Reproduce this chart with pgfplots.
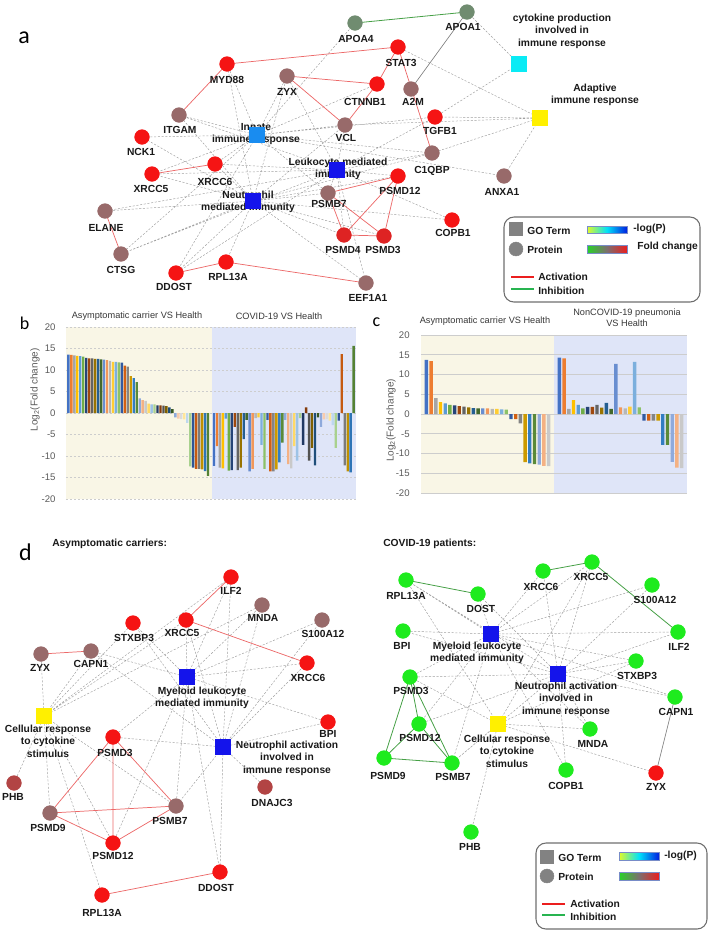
\documentclass[border=0pt]{standalone}
\usepackage{fontspec}
\setmainfont{Liberation Sans}
\newfontfamily\carl{Carlito}
\usepackage{pgfplots}
\pgfplotsset{compat=1.18}
% node / edge colours
\definecolor{nred}{RGB}{245,20,20}
\definecolor{nred2}{RGB}{222,35,35}
\definecolor{nbrown}{RGB}{152,106,106}
\definecolor{ndred}{RGB}{178,68,68}
\definecolor{napo}{RGB}{112,140,112}
\definecolor{ngreen}{RGB}{30,235,30}
\definecolor{sqlb}{RGB}{25,140,240}
\definecolor{sqb}{RGB}{20,20,235}
\definecolor{sqc}{RGB}{10,235,245}
\definecolor{sqy}{RGB}{255,240,0}
\definecolor{eRed}{RGB}{236,105,105}
\definecolor{eGreen}{RGB}{70,160,70}
\definecolor{eGrey}{RGB}{160,160,160}
\definecolor{txt}{RGB}{25,25,25}
\definecolor{ttlc}{RGB}{55,55,55}
\definecolor{bgY}{RGB}{249,246,230}
\definecolor{bgB}{RGB}{223,229,248}
\definecolor{gridc}{RGB}{205,205,205}
\definecolor{tickc}{RGB}{90,90,90}
\definecolor{legg}{RGB}{130,130,130}
\definecolor{legbox}{RGB}{110,110,110}
\definecolor{legout}{RGB}{120,140,200}
\definecolor{actc}{RGB}{235,30,30}
\definecolor{inhc}{RGB}{40,180,80}
\definecolor{gY}{RGB}{225,250,40}
\definecolor{gC}{RGB}{0,225,250}
\definecolor{gB}{RGB}{0,30,225}
\definecolor{fG}{RGB}{40,210,40}
\definecolor{fM}{RGB}{125,110,110}
\definecolor{fR}{RGB}{235,30,30}
% Office palette
\definecolor{p1}{HTML}{4472C4}\definecolor{p2}{HTML}{ED7D31}\definecolor{p3}{HTML}{A5A5A5}
\definecolor{p4}{HTML}{FFC000}\definecolor{p5}{HTML}{5B9BD5}\definecolor{p6}{HTML}{70AD47}
\definecolor{p7}{HTML}{264478}\definecolor{p8}{HTML}{9E480E}\definecolor{p9}{HTML}{636363}
\definecolor{p10}{HTML}{997300}\definecolor{p11}{HTML}{255E91}\definecolor{p12}{HTML}{43682B}
\definecolor{p13}{HTML}{698ED0}\definecolor{p14}{HTML}{F1975A}\definecolor{p15}{HTML}{B7B7B7}
\definecolor{p16}{HTML}{FFCD33}\definecolor{p17}{HTML}{7CAFDD}\definecolor{p18}{HTML}{8CC168}
\definecolor{p19}{HTML}{335AA1}\definecolor{p20}{HTML}{D26012}\definecolor{p21}{HTML}{848484}
\definecolor{p22}{HTML}{CC9A00}\definecolor{p23}{HTML}{327DC2}\definecolor{p24}{HTML}{5A8A39}
\definecolor{p25}{HTML}{8FAADC}\definecolor{p26}{HTML}{F4B183}\definecolor{p27}{HTML}{C9C9C9}
\definecolor{p28}{HTML}{FFD966}\definecolor{p29}{HTML}{9DC3E6}\definecolor{p30}{HTML}{A9D18E}
\definecolor{p31}{HTML}{203864}\definecolor{p32}{HTML}{843C0C}\definecolor{p33}{HTML}{525252}
\definecolor{p34}{HTML}{7F6000}\definecolor{p35}{HTML}{1F4E79}\definecolor{p36}{HTML}{385723}
\definecolor{p37}{HTML}{8EA9DB}\definecolor{p38}{HTML}{F8CBAD}\definecolor{p39}{HTML}{DBDBDB}
\definecolor{p40}{HTML}{FFE699}\definecolor{p41}{HTML}{BDD7EE}\definecolor{p42}{HTML}{A9D18E}
\definecolor{p43}{HTML}{2F5597}\definecolor{p44}{HTML}{C55A11}\definecolor{p45}{HTML}{7B7B7B}
\definecolor{p46}{HTML}{BF9000}\definecolor{p47}{HTML}{2E75B6}\definecolor{p48}{HTML}{548235}

\pgfplotsset{
  dEdge/.style={draw=eGrey, line width=0.35pt, dash pattern=on 1.6pt off 1.2pt},
  rEdge/.style={draw=eRed, line width=0.55pt},
  gEdge/.style={draw=eGreen, line width=0.6pt},
  sEdge/.style={draw=gray, line width=0.5pt},
  nd/.style={only marks, mark=*, mark size=5.5pt, color=#1},
  sq/.style={only marks, mark=square*, mark size=5.6pt, color=#1},
  bb/.style={ybar, bar width=0.8, bar shift=0pt, draw=none, fill=#1},
  cc/.style={ybar, bar width=0.72, bar shift=0pt, draw=none, fill=#1},
  barax/.style={anchor=north west, scale only axis, ymin=-20, ymax=20, clip=false,
    unbounded coords=jump, xtick=\empty, ytick={-20,-15,-10,-5,0,5,10,15,20},
    yticklabels={-20,-15,-10,-5,0,5,10,15,20}, axis line style={draw=none},
    major tick length=0pt,
    yticklabel style={font=\fontsize{7.2}{8}\selectfont, text=tickc},
    ylabel={Log\textsubscript{2}(Fold change)},
    ylabel style={font=\fontsize{7.5}{9}\selectfont, text=tickc, anchor=center}},
}
\tikzset{
  lab/.style={font=\bfseries\fontsize{7.7}{9.4}\selectfont, text=txt, inner sep=0pt, align=center},
  ttl/.style={font=\fontsize{6.9}{8.3}\selectfont, text=ttlc, inner sep=0pt, align=center},
  pl/.style={font=\carl\fontsize{18}{20}\selectfont, inner sep=0pt},
  plb/.style={font=\carl\fontsize{13.5}{15}\selectfont, inner sep=0pt},
  lbox/.style={draw=legbox, line width=0.8pt, rounded corners=7.5pt},
  gout/.style={draw=legout, line width=0.6pt},
}

\begin{document}
\begin{tikzpicture}
\useasboundingbox (0,0) rectangle (531pt,-699pt);

% ---------------- panel b ----------------
\begin{axis}[barax, at={(49.5pt,-245.25pt)}, width=217.5pt, height=129pt,
  xmin=0.2, xmax=97.8, yticklabel style={xshift=-4.3pt},
  ylabel style={at={(axis description cs:-0.107,0.634)}}]
\addplot[fill=bgY, draw=none] coordinates {(0.2,-20) (49.5,-20) (49.5,20) (0.2,20)};
\addplot[fill=bgB, draw=none] coordinates {(49.5,-20) (97.8,-20) (97.8,20) (49.5,20)};
\addplot[draw=gridc, line width=0.4pt, dash pattern=on 1.5pt off 1.5pt] coordinates {
 (0.2,-20)(97.8,-20)(0,nan)(0.2,-15)(97.8,-15)(0,nan)(0.2,-10)(97.8,-10)(0,nan)
 (0.2,-5)(97.8,-5)(0,nan)(0.2,0)(97.8,0)(0,nan)(0.2,5)(97.8,5)(0,nan)
 (0.2,10)(97.8,10)(0,nan)(0.2,15)(97.8,15)(0,nan)(0.2,20)(97.8,20)};
\addplot[bb=p1] coordinates {(1,13.6)(50,-12.3)};
\addplot[bb=p2] coordinates {(2,13.5)(51,-7.7)};
\addplot[bb=p3] coordinates {(3,13.4)(52,-12.7)};
\addplot[bb=p4] coordinates {(4,13.3)(53,-12.9)};
\addplot[bb=p5] coordinates {(5,13.2)(54,-1.3)};
\addplot[bb=p6] coordinates {(6,13.1)(55,-13.4)};
\addplot[bb=p7] coordinates {(7,12.8)(56,-13.3)};
\addplot[bb=p8] coordinates {(8,12.7)(57,-3.2)};
\addplot[bb=p9] coordinates {(9,12.7)(58,-13.3)};
\addplot[bb=p10] coordinates {(10,12.6)(59,-12.7)};
\addplot[bb=p11] coordinates {(11,12.6)(60,-6.1)};
\addplot[bb=p12] coordinates {(12,12.5)(61,-1.6)};
\addplot[bb=p13] coordinates {(13,12.4)(62,-13.6)};
\addplot[bb=p14] coordinates {(14,12.3)(63,-13.0)};
\addplot[bb=p15] coordinates {(15,12.1)(64,-1.2)};
\addplot[bb=p16] coordinates {(16,11.9)(65,-1.0)};
\addplot[bb=p17] coordinates {(17,11.9)(66,-7.4)};
\addplot[bb=p18] coordinates {(18,11.8)(67,-13.0)};
\addplot[bb=p19] coordinates {(19,11.7)(68,-1.6)};
\addplot[bb=p20] coordinates {(20,11.0)(69,-13.6)};
\addplot[bb=p21] coordinates {(21,10.8)(70,-13.6)};
\addplot[bb=p22] coordinates {(22,8.6)(71,-13.1)};
\addplot[bb=p23] coordinates {(23,8.1)(72,-11.5)};
\addplot[bb=p24] coordinates {(24,7.2)(73,-6.9)};
\addplot[bb=p25] coordinates {(25,3.4)(74,-1.6)};
\addplot[bb=p26] coordinates {(26,3.0)(75,-11.9)};
\addplot[bb=p27] coordinates {(27,2.8)(76,-12.9)};
\addplot[bb=p28] coordinates {(28,2.2)(77,-7.7)};
\addplot[bb=p29] coordinates {(29,2.0)(78,-11.1)};
\addplot[bb=p30] coordinates {(30,2.0)(79,-1.2)};
\addplot[bb=p31] coordinates {(31,1.8)(80,-7.4)};
\addplot[bb=p32] coordinates {(32,1.8)(81,1.3)};
\addplot[bb=p33] coordinates {(33,1.7)(82,-11.1)};
\addplot[bb=p34] coordinates {(34,1.6)(83,-8.1)};
\addplot[bb=p35] coordinates {(35,1.3)(84,-12.2)};
\addplot[bb=p36] coordinates {(36,0.9)(85,-1.0)};
\addplot[bb=p37] coordinates {(37,-1.0)(86,-3.2)};
\addplot[bb=p38] coordinates {(38,-1.3)(87,-1.5)};
\addplot[bb=p39] coordinates {(39,-1.4)(88,-1.4)};
\addplot[bb=p40] coordinates {(40,-1.5)(89,-1.8)};
\addplot[bb=p41] coordinates {(41,-2.3)(90,-2.8)};
\addplot[bb=p42] coordinates {(42,-12.4)(91,-8.1)};
\addplot[bb=p43] coordinates {(43,-12.7)(92,-1.8)};
\addplot[bb=p44] coordinates {(44,-13.0)(93,13.7)};
\addplot[bb=p45] coordinates {(45,-13.0)(94,-12.2)};
\addplot[bb=p46] coordinates {(46,-13.1)(95,-13.6)};
\addplot[bb=p47] coordinates {(47,-13.5)(96,-13.8)};
\addplot[bb=p48] coordinates {(48,-14.6)(97,15.6)};
\end{axis}

% ---------------- panel c ----------------
\begin{axis}[barax, at={(315.75pt,-251.25pt)}, width=199.5pt, height=118.5pt,
  xmin=-0.15, xmax=56.45, yticklabel style={xshift=-5pt},
  ylabel style={at={(axis description cs:-0.113,0.46)}}]
\addplot[fill=bgY, draw=none] coordinates {(-0.15,-20) (28.15,-20) (28.15,20) (-0.15,20)};
\addplot[fill=bgB, draw=none] coordinates {(28.15,-20) (56.45,-20) (56.45,20) (28.15,20)};
\addplot[draw=gridc, line width=0.4pt] coordinates {
 (-0.15,-20)(56.45,-20)(0,nan)(-0.15,-15)(56.45,-15)(0,nan)(-0.15,-10)(56.45,-10)(0,nan)
 (-0.15,-5)(56.45,-5)(0,nan)(-0.15,0)(56.45,0)(0,nan)(-0.15,5)(56.45,5)(0,nan)
 (-0.15,10)(56.45,10)(0,nan)(-0.15,15)(56.45,15)(0,nan)(-0.15,20)(56.45,20)};
\addplot[cc=p1] coordinates {(1,13.7)(29.3,14.3)};
\addplot[cc=p2] coordinates {(2,13.4)(30.3,14.1)};
\addplot[cc=p3] coordinates {(3,4.0)(31.3,1.3)};
\addplot[cc=p4] coordinates {(4,3.0)(32.3,3.5)};
\addplot[cc=p5] coordinates {(5,2.7)(33.3,2.3)};
\addplot[cc=p6] coordinates {(6,2.3)(34.3,1.4)};
\addplot[cc=p7] coordinates {(7,2.2)(35.3,1.8)};
\addplot[cc=p8] coordinates {(8,2.0)(36.3,1.8)};
\addplot[cc=p9] coordinates {(9,1.9)(37.3,2.3)};
\addplot[cc=p10] coordinates {(10,1.7)(38.3,1.6)};
\addplot[cc=p11] coordinates {(11,1.5)(39.3,2.8)};
\addplot[cc=p12] coordinates {(12,1.4)(40.3,1.3)};
\addplot[cc=p13] coordinates {(13,1.4)(41.3,12.7)};
\addplot[cc=p14] coordinates {(14,1.4)(42.3,1.7)};
\addplot[cc=p15] coordinates {(15,1.3)(43.3,1.4)};
\addplot[cc=p16] coordinates {(16,1.3)(44.3,1.9)};
\addplot[cc=p17] coordinates {(17,1.2)(45.3,13.2)};
\addplot[cc=p18] coordinates {(18,1.1)(46.3,1.7)};
\addplot[cc=p19] coordinates {(19,-1.3)(47.3,-1.7)};
\addplot[cc=p20] coordinates {(20,-1.3)(48.3,-1.7)};
\addplot[cc=p21] coordinates {(21,-2.4)(49.3,-1.7)};
\addplot[cc=p22] coordinates {(22,-12.2)(50.3,-1.7)};
\addplot[cc=p23] coordinates {(23,-12.5)(51.3,-7.8)};
\addplot[cc=p24] coordinates {(24,-12.7)(52.3,-7.8)};
\addplot[cc=p25] coordinates {(25,-12.8)(53.3,-12.1)};
\addplot[cc=p26] coordinates {(26,-13.1)(54.3,-13.6)};
\addplot[cc=p27] coordinates {(27,-13.2)(55.3,-13.7)};
\end{axis}

% ---------------- networks (pixel coordinates) ----------------
\begin{axis}[at={(0pt,0pt)}, anchor=north west, scale only axis, width=531pt, height=699pt,
  xmin=0, xmax=708, ymin=0, ymax=932, y dir=reverse, hide axis, clip=false,
  unbounded coords=jump]

% ===== panel a: dashed edges =====
\addplot[dEdge] coordinates {
(257,135)(227,64)(0,nan)(257,135)(287,76)(0,nan)(257,135)(179,115)(0,nan)(257,135)(142,137)(0,nan)
(257,135)(152,174)(0,nan)(257,135)(345,125)(0,nan)(257,135)(377,84)(0,nan)(257,135)(435,117)(0,nan)
(257,135)(432,153)(0,nan)(257,135)(355,23)(0,nan)(257,135)(328,193)(0,nan)(257,135)(176,273)(0,nan)
(257,135)(121,254)(0,nan)(257,135)(504,176)(0,nan)(257,135)(215,164)(0,nan)
(253,201)(179,115)(0,nan)(253,201)(152,174)(0,nan)(253,201)(215,164)(0,nan)(253,201)(105,211)(0,nan)
(253,201)(121,254)(0,nan)(253,201)(176,273)(0,nan)(253,201)(226,262)(0,nan)(253,201)(328,193)(0,nan)
(253,201)(344,235)(0,nan)(253,201)(384,236)(0,nan)(253,201)(398,176)(0,nan)(253,201)(452,220)(0,nan)
(253,201)(345,125)(0,nan)(253,201)(287,76)(0,nan)(253,201)(227,64)(0,nan)(253,201)(432,153)(0,nan)
(253,201)(366,283)(0,nan)(253,201)(142,137)(0,nan)
(337,170)(179,115)(0,nan)(337,170)(152,174)(0,nan)(337,170)(215,164)(0,nan)(337,170)(105,211)(0,nan)
(337,170)(121,254)(0,nan)(337,170)(432,153)(0,nan)(337,170)(435,117)(0,nan)(337,170)(328,193)(0,nan)
(337,170)(345,125)(0,nan)(337,170)(176,273)(0,nan)(337,170)(398,176)(0,nan)(337,170)(344,235)(0,nan)
(337,170)(366,283)(0,nan)(337,170)(452,220)(0,nan)(337,170)(287,76)(0,nan)
(519,64)(467,12)(0,nan)(519,64)(435,117)(0,nan)
(540,118)(398,47)(0,nan)(540,118)(435,117)(0,nan)(540,118)(432,153)(0,nan)(540,118)(504,176)(0,nan)
(540,118)(345,125)};
% solid edges a
\addplot[rEdge] coordinates {
(227,64)(398,47)(0,nan)(227,64)(179,115)(0,nan)(287,76)(377,84)(0,nan)(287,76)(345,125)(0,nan)
(345,125)(377,84)(0,nan)(377,84)(398,47)(0,nan)(398,47)(432,153)(0,nan)(152,174)(215,164)(0,nan)
(105,211)(121,254)(0,nan)(176,273)(226,262)(0,nan)(226,262)(366,283)(0,nan)(328,193)(398,176)(0,nan)
(328,193)(344,235)(0,nan)(328,193)(384,236)(0,nan)(398,176)(344,235)(0,nan)(398,176)(384,236)(0,nan)
(344,235)(384,236)};
\addplot[gEdge] coordinates {(355,23)(467,12)};
\addplot[sEdge] coordinates {(411,89)(467,12)};

% ===== panel d left: edges =====
\addplot[dEdge] coordinates {
(187,677)(231,577)(0,nan)(187,677)(262,605)(0,nan)(187,677)(322,620)(0,nan)(187,677)(186,620)(0,nan)
(187,677)(133,623)(0,nan)(187,677)(91,651)(0,nan)(187,677)(307,663)(0,nan)(187,677)(328,722)(0,nan)
(187,677)(113,737)(0,nan)(187,677)(176,806)(0,nan)(187,677)(113,843)(0,nan)(187,677)(220,872)(0,nan)
(223,747)(231,577)(0,nan)(223,747)(262,605)(0,nan)(223,747)(322,620)(0,nan)(223,747)(186,620)(0,nan)
(223,747)(133,623)(0,nan)(223,747)(307,663)(0,nan)(223,747)(328,722)(0,nan)(223,747)(113,737)(0,nan)
(223,747)(176,806)(0,nan)(223,747)(265,787)(0,nan)(223,747)(220,872)(0,nan)(223,747)(91,651)(0,nan)
(44,716)(41,654)(0,nan)(44,716)(133,623)(0,nan)(44,716)(186,620)(0,nan)(44,716)(262,605)(0,nan)
(44,716)(91,651)(0,nan)(44,716)(14,783)(0,nan)(44,716)(50,813)(0,nan)(44,716)(113,843)(0,nan)
(44,716)(102,895)(0,nan)(44,716)(176,806)(0,nan)(44,716)(231,577)};
\addplot[rEdge] coordinates {
(231,577)(186,620)(0,nan)(186,620)(307,663)(0,nan)(41,654)(91,651)(0,nan)(113,737)(50,813)(0,nan)
(113,737)(113,843)(0,nan)(113,737)(176,806)(0,nan)(50,813)(176,806)(0,nan)(50,813)(113,843)(0,nan)
(113,843)(176,806)(0,nan)(102,895)(220,872)};

% ===== panel d right: edges =====
\addplot[dEdge] coordinates {
(491,634)(478,594)(0,nan)(491,634)(543,571)(0,nan)(491,634)(592,562)(0,nan)(491,634)(652,585)(0,nan)
(491,634)(403,631)(0,nan)(491,634)(678,632)(0,nan)(491,634)(636,661)(0,nan)(491,634)(410,677)(0,nan)
(491,634)(419,724)(0,nan)(491,634)(590,729)(0,nan)(491,634)(566,770)(0,nan)(491,634)(675,697)(0,nan)
(491,634)(406,580)(0,nan)(491,634)(452,763)(0,nan)
(558,674)(592,562)(0,nan)(558,674)(543,571)(0,nan)(558,674)(652,585)(0,nan)(558,674)(678,632)(0,nan)
(558,674)(636,661)(0,nan)(558,674)(675,697)(0,nan)(558,674)(410,677)(0,nan)(558,674)(590,729)(0,nan)
(558,674)(566,770)(0,nan)(558,674)(403,631)(0,nan)(558,674)(478,594)(0,nan)(558,674)(452,763)(0,nan)
(558,674)(419,724)(0,nan)(558,674)(406,580)(0,nan)
(498,724)(410,677)(0,nan)(498,724)(471,832)(0,nan)(498,724)(590,729)(0,nan)(498,724)(656,773)(0,nan)
(498,724)(592,562)(0,nan)(498,724)(452,763)(0,nan)(498,724)(406,580)(0,nan)(498,724)(636,661)};
\addplot[gEdge] coordinates {
(406,580)(478,594)(0,nan)(543,571)(592,562)(0,nan)(592,562)(678,632)(0,nan)(410,677)(419,724)(0,nan)
(410,677)(384,758)(0,nan)(410,677)(452,763)(0,nan)(419,724)(384,758)(0,nan)(384,758)(452,763)(0,nan)
(419,724)(452,763)};
\addplot[sEdge] coordinates {(675,697)(656,773)};

% ===== nodes =====
\addplot[nd=nred] coordinates {(227,64)(398,47)(377,84)(435,117)(142,137)(152,174)(215,164)(398,176)(452,220)(176,273)(226,262)};
\addplot[nd=nred2] coordinates {(344,235)(384,236)};
\addplot[nd=nbrown] coordinates {(287,76)(411,89)(179,115)(345,125)(432,153)(504,176)(328,193)(105,211)(121,254)(366,283)};
\addplot[nd=napo] coordinates {(355,23)(467,12)};
\addplot[sq=sqlb] coordinates {(257,135)};
\addplot[sq=sqb] coordinates {(337,170)(253,201)};
\addplot[sq=sqc] coordinates {(519,64)};
\addplot[sq=sqy] coordinates {(540,118)};
% d left
\addplot[nd=nred] coordinates {(231,577)(186,620)(133,623)(307,663)(113,737)(328,722)(113,843)(220,872)(102,895)};
\addplot[nd=nbrown] coordinates {(262,605)(322,620)(41,654)(91,651)(50,813)(176,806)};
\addplot[nd=ndred] coordinates {(14,783)(265,787)};
\addplot[sq=sqb] coordinates {(187,677)(223,747)};
\addplot[sq=sqy] coordinates {(44,716)};
% d right
\addplot[nd=ngreen] coordinates {(592,562)(543,571)(406,580)(478,594)(652,585)(403,631)(678,632)(636,661)(410,677)(675,697)(419,724)(590,729)(384,758)(452,763)(566,770)(471,832)};
\addplot[nd=nred] coordinates {(656,773)};
\addplot[sq=sqb] coordinates {(491,634)(558,674)};
\addplot[sq=sqy] coordinates {(498,724)};

% ===== labels panel a =====
\node[lab] at (axis cs:227,80) {MYD88};
\node[lab] at (axis cs:287,92) {ZYX};
\node[lab] at (axis cs:180,130) {ITGAM};
\node[lab] at (axis cs:256,134) {Innate\\immune response};
\node[lab] at (axis cs:141,152) {NCK1};
\node[lab] at (axis cs:215,182) {XRCC6};
\node[lab] at (axis cs:151,189) {XRCC5};
\node[lab] at (axis cs:248,202) {Neutrophil\\mediated immunity};
\node[lab] at (axis cs:338,169) {Leukocyte mediated\\immunity};
\node[lab] at (axis cs:356,39) {APOA4};
\node[lab] at (axis cs:463,27) {APOA1};
\node[lab] at (axis cs:562,31) {cytokine production\\involved in\\immune response};
\node[lab] at (axis cs:401,63) {STAT3};
\node[lab] at (axis cs:365,102) {CTNNB1};
\node[lab] at (axis cs:413,102) {A2M};
\node[lab] at (axis cs:595,95) {Adaptive\\immune response};
\node[lab] at (axis cs:440,131) {TGFB1};
\node[lab] at (axis cs:432,171) {C1QBP};
\node[lab] at (axis cs:502,192) {ANXA1};
\node[lab] at (axis cs:400,191) {PSMD12};
\node[lab] at (axis cs:453,233) {COPB1};
\node[lab] at (axis cs:383,250) {PSMD3};
\node[lab] at (axis cs:343,250) {PSMD4};
\node[lab] at (axis cs:329,204) {PSMB7};
\node[lab] at (axis cs:346,138) {VCL};
\node[lab] at (axis cs:368,298) {EEF1A1};
\node[lab] at (axis cs:106,228) {ELANE};
\node[lab] at (axis cs:121,270) {CTSG};
\node[lab] at (axis cs:174,287) {DDOST};
\node[lab] at (axis cs:228,277) {RPL13A};

% ===== labels d left =====
\node[lab] at (axis cs:231,591) {ILF2};
\node[lab] at (axis cs:263,618) {MNDA};
\node[lab] at (axis cs:323,634) {S100A12};
\node[lab] at (axis cs:182,633) {XRCC5};
\node[lab] at (axis cs:134,638) {STXBP3};
\node[lab] at (axis cs:40,668) {ZYX};
\node[lab] at (axis cs:91,664) {CAPN1};
\node[lab] at (axis cs:308,678) {XRCC6};
\node[lab] at (axis cs:202,698) {Myeloid leukocyte\\mediated immunity};
\node[lab] at (axis cs:48,741) {Cellular response\\to cytokine\\stimulus};
\node[lab] at (axis cs:115,753) {PSMD3};
\node[lab] at (axis cs:328,734) {BPI};
\node[lab] at (axis cs:287,758) {Neutrophil activation\\involved in\\immune response};
\node[lab] at (axis cs:13,797) {PHB};
\node[lab] at (axis cs:272,803) {DNAJC3};
\node[lab] at (axis cs:48,828) {PSMD9};
\node[lab] at (axis cs:170,821) {PSMB7};
\node[lab] at (axis cs:113,856) {PSMD12};
\node[lab] at (axis cs:216,888) {DDOST};
\node[lab] at (axis cs:102,913) {RPL13A};

% ===== labels d right =====
\node[lab] at (axis cs:591,577) {XRCC5};
\node[lab] at (axis cs:541,587) {XRCC6};
\node[lab] at (axis cs:406,596) {RPL13A};
\node[lab] at (axis cs:481,609) {DOST};
\node[lab] at (axis cs:655,600) {S100A12};
\node[lab] at (axis cs:402,646) {BPI};
\node[lab] at (axis cs:477,653) {Myeloid leukocyte\\mediated immunity};
\node[lab] at (axis cs:679,647) {ILF2};
\node[lab] at (axis cs:637,676) {STXBP3};
\node[lab] at (axis cs:566,699) {Neutrophil activation\\involved in\\immune response};
\node[lab] at (axis cs:411,691) {PSMD3};
\node[lab] at (axis cs:676,712) {CAPN1};
\node[lab] at (axis cs:420,738) {PSMD12};
\node[lab] at (axis cs:507,751) {Cellular response\\to cytokine\\stimulus};
\node[lab] at (axis cs:593,744) {MNDA};
\node[lab] at (axis cs:388,776) {PSMD9};
\node[lab] at (axis cs:453,777) {PSMB7};
\node[lab] at (axis cs:566,786) {COPB1};
\node[lab] at (axis cs:656,787) {ZYX};
\node[lab] at (axis cs:470,847) {PHB};

% ===== legends =====
\draw[lbox] (axis cs:504,217) rectangle (axis cs:700,302);
\draw[lbox] (axis cs:536,843) rectangle (axis cs:707,929);
\addplot[only marks, mark=square*, mark size=5pt, color=legg] coordinates {(516,229)(547,857)};
\addplot[only marks, mark=*, mark size=5.2pt, color=legg] coordinates {(516,249)(547,876)};
\addplot[draw=actc, line width=1pt] coordinates {(511,277)(534,277)(0,nan)(542,904)(565,904)};
\addplot[draw=inhc, line width=1pt] coordinates {(511,289)(534,289)(0,nan)(542,915)(565,915)};
\shade[left color=gY, right color=gB, middle color=gC] (axis cs:587,226) rectangle (axis cs:627,233);
\shade[left color=fG, right color=fR, middle color=fM] (axis cs:587,245) rectangle (axis cs:627,253);
\shade[left color=gY, right color=gB, middle color=gC] (axis cs:619,852) rectangle (axis cs:659,860);
\shade[left color=fG, right color=fR, middle color=fM] (axis cs:619,872) rectangle (axis cs:659,880);
\draw[gout] (axis cs:587,226) rectangle (axis cs:627,233);
\draw[gout] (axis cs:587,245) rectangle (axis cs:627,253);
\draw[gout] (axis cs:619,852) rectangle (axis cs:659,860);
\draw[gout] (axis cs:619,872) rectangle (axis cs:659,880);
\node[lab, anchor=west] at (axis cs:527,231) {GO Term};
\node[lab, anchor=west] at (axis cs:527,250) {Protein};
\node[lab, anchor=west] at (axis cs:633,229) {-log(P)};
\node[lab, anchor=west] at (axis cs:637,247) {Fold change};
\node[lab, anchor=west] at (axis cs:538,277) {Activation};
\node[lab, anchor=west] at (axis cs:538,291) {Inhibition};
\node[lab, anchor=west] at (axis cs:558,858) {GO Term};
\node[lab, anchor=west] at (axis cs:558,877) {Protein};
\node[lab, anchor=west] at (axis cs:664,856) {-log(P)};
\node[lab, anchor=west] at (axis cs:570,904) {Activation};
\node[lab, anchor=west] at (axis cs:570,917) {Inhibition};

% ===== titles & panel letters =====
\node[pl] at (axis cs:24,38) {a};
\node[plb] at (axis cs:24.5,323.5) {b};
\node[plb] at (axis cs:376.5,322.5) {c};
\node[pl] at (axis cs:25.5,552) {d};
\node[ttl] at (axis cs:137,316) {Asymptomatic carrier VS Health};
\node[ttl] at (axis cs:279,316) {COVID-19 VS Health};
\node[ttl] at (axis cs:485,321) {Asymptomatic carrier VS Health};
\node[ttl] at (axis cs:627,317.5) {NonCOVID-19 pneumonia\\VS Health};
\node[lab, anchor=west] at (axis cs:52,544) {Asymptomatic carriers:};
\node[lab, anchor=west] at (axis cs:383,544) {COVID-19 patients:};
\end{axis}
\end{tikzpicture}
\end{document}
